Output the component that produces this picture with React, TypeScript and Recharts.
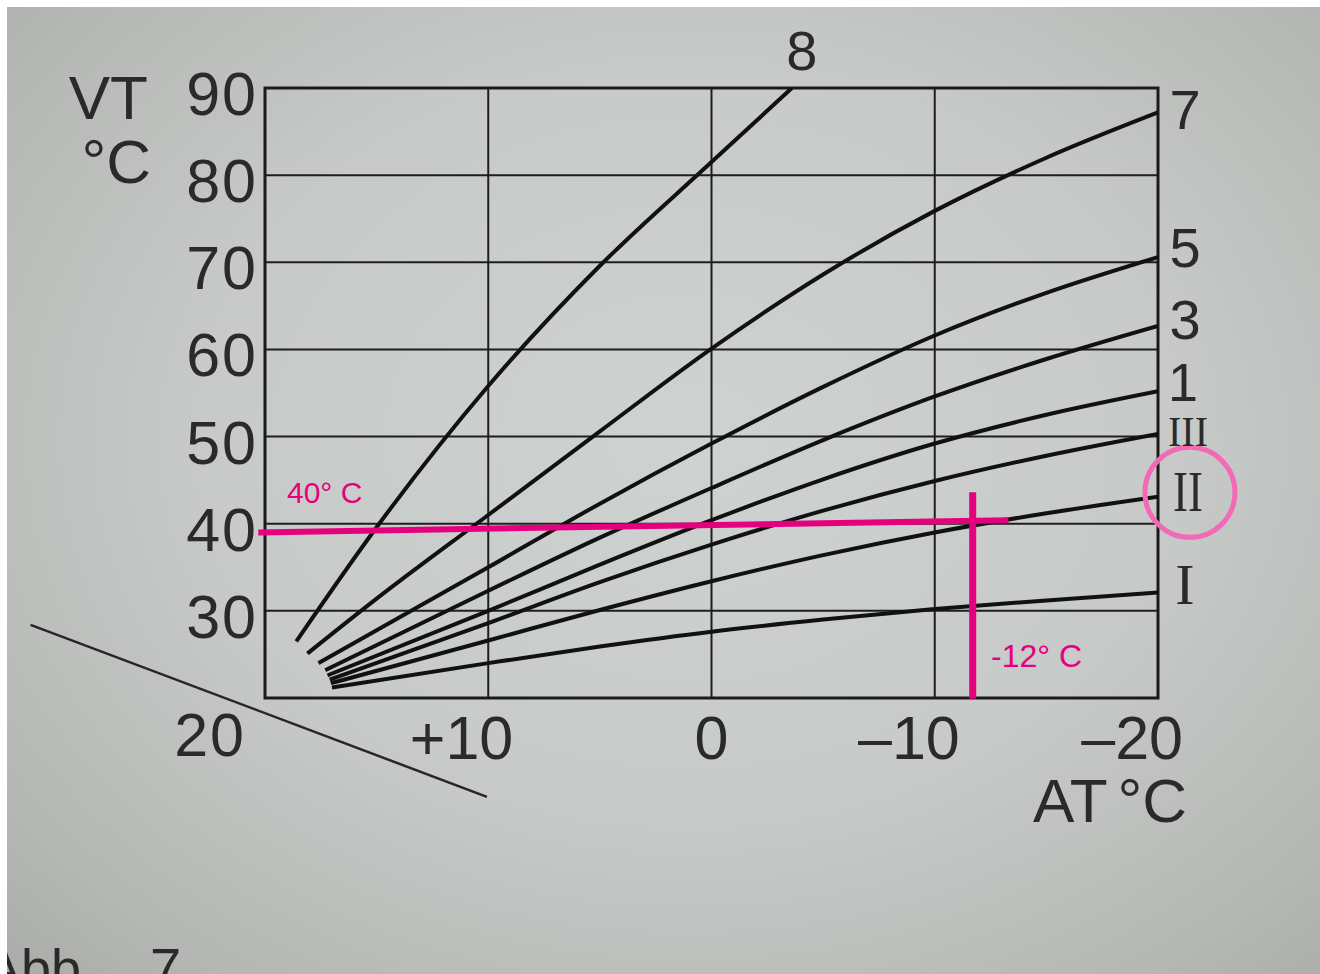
import React from 'react';
import {
  ComposedChart,
  Line,
  XAxis,
  YAxis,
  CartesianGrid,
  ReferenceLine,
  ReferenceDot,
  ReferenceArea,
} from 'recharts';

// ---------------- data ----------------
const AT_TICKS = [10, 0, -10, -20];
const AT_TICK_LABELS = ['+10', '0', '–10', '–20'];
const VT_TICKS = [20, 30, 40, 50, 60, 70, 80, 90];

const curve8At = [18.6, 15, 10, 5, 0, -3.6];
const curve8Vt = [26.5, 39.6, 55.8, 69.6, 81.5, 90];
const curve7At = [18.1, 15, 10, 5, 0, -5, -10, -15, -20];
const curve7Vt = [25.1, 31.4, 41.0, 50.6, 60.1, 68.6, 75.9, 82.0, 87.2];
const curve5At = [17.6, 10, 5, 0, -5, -10, -15, -20];
const curve5Vt = [24.0, 35.0, 42.3, 49.2, 55.7, 61.6, 66.5, 70.6];
const curve3At = [17.3, 10, 5, 0, -5, -10, -15, -20];
const curve3Vt = [23.2, 32.3, 38.4, 44.1, 49.6, 54.6, 58.9, 62.7];
const curve1At = [17.2, 10, 5, 0, -5, -10, -15, -20];
const curve1Vt = [22.6, 30.0, 35.3, 40.4, 45.1, 49.2, 52.5, 55.2];
const curveIIIAt = [17.1, 10, 5, 0, -5, -10, -15, -20];
const curveIIIVt = [22.1, 28.6, 33.3, 37.6, 41.5, 44.9, 47.8, 50.3];
const curveIIAt = [17.05, 10, 5, 0, -5, -10, -15, -20];
const curveIIVt = [21.7, 26.6, 30.1, 33.4, 36.4, 39.0, 41.2, 43.1];
const curveIAt = [17.0, 10, 5, 0, -5, -10, -15, -20];
const curveIVt = [21.2, 24.0, 25.9, 27.6, 29.0, 30.2, 31.2, 32.1];

// annotation (pink) marks
const pinkHorizontal = [
  { at: 20.3, vt: 39.0 },
  { at: -13.3, vt: 40.4 },
];
const pinkVertical = [
  { at: -11.7, vt: 43.6 },
  { at: -11.7, vt: 19.9 },
];
const pinkCircle = { at: -21.43, vt: 43.6 };
const cornerDiagonal = [
  { at: 30.5, vt: 28.4 },
  { at: 10.06, vt: 8.66 },
];

const zip = (ats: number[], vts: number[]) => ats.map((at, i) => ({ at, vt: vts[i] }));

// ---------------- styles ----------------
const INK = '#2a2a2a';
const PINK = '#e5007e';
const SANS = '"Liberation Sans", Arial, Helvetica, sans-serif';
const SERIF = '"Liberation Serif", "DejaVu Serif", serif';

type CurveDef = {
  name: string;
  data: { at: number; vt: number }[];
  dx: number;
  dy: number;
  roman?: boolean;
  size: number;
  len?: number;
};

const CURVES: CurveDef[] = [
  { name: '8', data: zip(curve8At, curve8Vt), dx: 10, dy: -38, size: 56 },
  { name: '7', data: zip(curve7At, curve7Vt), dx: 27, dy: -3, size: 56 },
  { name: '5', data: zip(curve5At, curve5Vt), dx: 27, dy: -10, size: 56 },
  { name: '3', data: zip(curve3At, curve3Vt), dx: 27, dy: -6, size: 56 },
  { name: '1', data: zip(curve1At, curve1Vt), dx: 25, dy: -9, size: 54 },
  { name: 'III', data: zip(curveIIIAt, curveIIIVt), dx: 30, dy: -2, roman: true, size: 42, len: 40 },
  { name: 'II', data: zip(curveIIAt, curveIIVt), dx: 30, dy: -5, roman: true, size: 58, len: 30 },
  { name: 'I', data: zip(curveIAt, curveIVt), dx: 27, dy: -8, roman: true, size: 58 },
];

const makeLabel = (c: CurveDef) => (props: any) => {
  if (props.index !== c.data.length - 1) return <g key={`l-${c.name}-${props.index}`} />;
  const extra: any = c.len ? { textLength: c.len, lengthAdjust: 'spacingAndGlyphs' } : {};
  return (
    <text
      key={`l-${c.name}`}
      x={props.x + c.dx}
      y={props.y + c.dy}
      textAnchor="middle"
      dominantBaseline="central"
      fill={INK}
      fontFamily={c.roman ? SERIF : SANS}
      fontSize={c.size}
      {...extra}
    >
      {c.name}
    </text>
  );
};

const YTick = (props: any) => {
  const { y, payload } = props;
  const v = payload.value;
  if (v === 20) {
    return (
      <text x={246} y={y + 37} textAnchor="end" dominantBaseline="central" fill={INK} fontFamily={SANS} fontSize={61} letterSpacing={2}>
        {v}
      </text>
    );
  }
  return (
    <text x={258} y={y + 6} textAnchor="end" dominantBaseline="central" fill={INK} fontFamily={SANS} fontSize={61} letterSpacing={2}>
      {v}
    </text>
  );
};

const XTick = (props: any) => {
  const { x, payload } = props;
  const v = payload.value;
  const label = AT_TICK_LABELS[AT_TICKS.indexOf(v)];
  const isZero = v === 0;
  return (
    <text
      x={isZero ? x : x + 25}
      y={738}
      textAnchor={isZero ? 'middle' : 'end'}
      dominantBaseline="central"
      fill={INK}
      fontFamily={SANS}
      fontSize={61}
    >
      {label}
    </text>
  );
};

export default function App() {
  return (
    <div style={{ position: 'relative', width: 1320, height: 974, background: '#ffffff', overflow: 'hidden' }}>
      <style>{'html,body{margin:0;padding:0;overflow:hidden;background:#fff}'}</style>
      <div
        style={{
          position: 'absolute',
          left: 7,
          top: 7,
          right: 0,
          bottom: 0,
          background:
            'radial-gradient(ellipse at 52% 45%, #ced2d1 0%, #c7cac8 50%, #b5b7b4 85%, #aaaca9 100%)',
        }}
      />
      <div style={{ position: 'absolute', left: 0, top: 0 }}>
        <ComposedChart
          width={1320}
          height={974}
          margin={{ top: 88, right: 162, left: 0, bottom: 216 }}
        >
          <CartesianGrid stroke="#1e1e1e" strokeWidth={2} />
          <XAxis
            type="number"
            dataKey="at"
            domain={[-20, 20]}
            reversed
            ticks={AT_TICKS}
            allowDataOverflow
            axisLine={false}
            tickLine={false}
            tick={<XTick />}
            height={60}
            interval={0}
          />
          <YAxis
            type="number"
            dataKey="vt"
            domain={[20, 90]}
            ticks={VT_TICKS}
            allowDataOverflow
            axisLine={false}
            tickLine={false}
            tick={<YTick />}
            width={265}
            interval={0}
          />
          <ReferenceArea
            x1={20}
            x2={-20}
            y1={20}
            y2={90}
            fill="none"
            fillOpacity={0}
            stroke="#1a1a1a"
            strokeWidth={3}
            ifOverflow="visible"
          />
          <ReferenceLine
            segment={[
              { x: cornerDiagonal[0].at, y: cornerDiagonal[0].vt },
              { x: cornerDiagonal[1].at, y: cornerDiagonal[1].vt },
            ]}
            stroke="#262626"
            strokeWidth={2.5}
            ifOverflow="visible"
          />
          {CURVES.map((c) => (
            <Line
              key={c.name}
              data={c.data}
              dataKey="vt"
              type="monotone"
              stroke="#111111"
              strokeWidth={4}
              dot={false}
              activeDot={false}
              isAnimationActive={false}
              label={makeLabel(c)}
            />
          ))}
          <ReferenceLine
            segment={[
              { x: pinkHorizontal[0].at, y: pinkHorizontal[0].vt },
              { x: pinkHorizontal[1].at, y: pinkHorizontal[1].vt },
            ]}
            stroke={PINK}
            strokeWidth={6}
            ifOverflow="visible"
          />
          <ReferenceLine
            segment={[
              { x: pinkVertical[0].at, y: pinkVertical[0].vt },
              { x: pinkVertical[1].at, y: pinkVertical[1].vt },
            ]}
            stroke={PINK}
            strokeWidth={7}
            ifOverflow="visible"
          />
          <ReferenceDot
            x={pinkCircle.at}
            y={pinkCircle.vt}
            r={45}
            fill="none"
            fillOpacity={0}
            stroke="#f26ab6"
            strokeWidth={5}
            ifOverflow="visible"
          />
        </ComposedChart>
      </div>
      <svg
        width={1320}
        height={974}
        style={{ position: 'absolute', left: 0, top: 0, pointerEvents: 'none' }}
      >
        <defs>
          <clipPath id="page">
            <rect x={7} y={7} width={1313} height={967} />
          </clipPath>
        </defs>
        <g fontFamily={SANS} fill={INK}>
          <text x={148} y={119} textAnchor="end" fontSize={62}>VT</text>
          <text x={151} y={183} textAnchor="end" fontSize={62}>°C</text>
          <text x={1033} y={822} textAnchor="start" fontSize={62}>AT</text>
          <text x={1187} y={822} textAnchor="end" fontSize={62}>°C</text>
        </g>
        <g fontFamily={SANS} fill={PINK}>
          <text x={287} y={503} fontSize={30}>40° C</text>
          <text x={991} y={667} fontSize={32}>-12° C</text>
        </g>
        <g clipPath="url(#page)" fontFamily={SANS} fill={INK}>
          <text x={96} y={987} textAnchor="end" fontSize={54}>Abb.</text>
          <text x={150} y={987} textAnchor="start" fontSize={56}>7</text>
        </g>
      </svg>
    </div>
  );
}
